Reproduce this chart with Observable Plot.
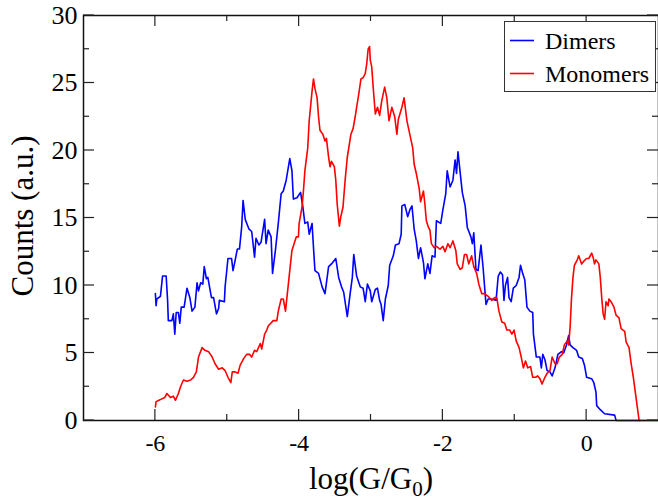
<!DOCTYPE html>
<html>
<head>
<meta charset="utf-8">
<script src="https://cdn.jsdelivr.net/npm/d3@7"></script>
<script src="https://cdn.jsdelivr.net/npm/@observablehq/plot@0.6"></script>
<style>
  html, body { margin: 0; padding: 0; background: #fff; }
</style>
</head>
<body>
<div id="chart"></div>
<script>
// ---- Data ----
const seriesNames = ["Dimers", "Monomers"];
const seriesColors = ["#0000ff", "#ff0000"];

const dimersX = [-6.00,-5.99,-5.98,-5.93,-5.90,-5.85,-5.83,-5.82,-5.77,-5.75,-5.73,-5.71,-5.68,-5.66,-5.64,-5.60,-5.56,-5.52,-5.49,-5.45,-5.42,-5.40,-5.37,-5.34,-5.32,-5.29,-5.27,-5.22,-5.19,-5.15,-5.12,-5.11,-5.04,-5.03,-4.99,-4.94,-4.92,-4.90,-4.86,-4.83,-4.80,-4.78,-4.75,-4.70,-4.66,-4.62,-4.60,-4.56,-4.53,-4.48,-4.46,-4.43,-4.39,-4.37,-4.33,-4.29,-4.25,-4.22,-4.18,-4.13,-4.10,-4.08,-4.03,-3.98,-3.95,-3.92,-3.88,-3.86,-3.82,-3.80,-3.78,-3.73,-3.68,-3.64,-3.59,-3.55,-3.49,-3.45,-3.41,-3.38,-3.33,-3.29,-3.26,-3.24,-3.20,-3.15,-3.11,-3.08,-3.05,-3.01,-2.99,-2.94,-2.91,-2.88,-2.86,-2.83,-2.80,-2.76,-2.74,-2.69,-2.66,-2.61,-2.58,-2.57,-2.53,-2.49,-2.46,-2.43,-2.40,-2.37,-2.34,-2.31,-2.27,-2.25,-2.21,-2.18,-2.15,-2.11,-2.09,-2.03,-2.00,-1.96,-1.94,-1.90,-1.86,-1.83,-1.81,-1.79,-1.76,-1.73,-1.69,-1.66,-1.61,-1.59,-1.57,-1.54,-1.51,-1.47,-1.44,-1.40,-1.37,-1.33,-1.26,-1.23,-1.20,-1.17,-1.15,-1.13,-1.10,-1.08,-1.05,-1.02,-0.98,-0.94,-0.92,-0.89,-0.86,-0.83,-0.79,-0.75,-0.74,-0.70,-0.65,-0.63,-0.61,-0.58,-0.55,-0.51,-0.48,-0.44,-0.40,-0.35,-0.32,-0.28,-0.25,-0.23,-0.19,-0.14,-0.11,-0.06,-0.03,0.00,0.07,0.10,0.13,0.14,0.19,0.25,0.39,0.41,0.74];
const dimersY = [9.4,8.5,9.0,9.2,10.7,10.7,8.9,7.4,7.4,7.9,6.4,8.0,8.0,7.2,8.4,8.4,9.8,9.1,8.1,8.4,10.2,9.6,10.2,10.1,11.4,10.5,10.6,9.1,9.1,7.9,8.3,8.9,8.8,9.9,12.0,12.0,11.1,11.6,12.7,12.7,14.3,16.3,14.9,14.2,14.0,12.1,13.5,13.0,13.2,14.9,13.1,14.1,13.6,10.9,12.6,14.6,16.8,17.0,17.8,19.4,18.5,16.4,16.5,16.9,15.9,14.6,14.7,13.8,14.6,12.8,11.1,10.9,9.9,9.4,11.4,11.6,12.0,10.6,9.9,9.5,7.7,9.4,10.6,12.3,10.7,9.9,9.8,8.8,10.1,9.6,8.8,9.7,9.8,8.9,8.6,7.4,9.0,10.0,11.5,12.2,13.0,13.1,13.8,15.9,16.0,15.1,15.6,15.9,14.2,13.3,12.0,12.8,11.7,10.5,11.6,10.9,12.2,12.1,14.8,14.6,15.6,16.8,18.5,17.3,17.8,19.3,18.3,19.9,18.4,16.9,15.9,14.3,13.6,13.1,13.9,11.2,11.1,13.0,11.3,8.6,9.0,9.0,8.9,10.7,11.0,10.8,8.9,10.0,10.6,9.1,8.8,9.8,10.0,10.6,11.5,10.9,10.4,8.4,8.1,8.0,6.4,4.7,4.7,3.9,4.9,4.5,3.7,3.6,3.3,3.9,4.9,5.1,5.0,5.6,6.3,5.6,5.4,5.2,4.7,4.6,4.1,3.2,3.1,2.8,2.1,1.1,0.8,0.5,0.4,0.0,0.0];

const monomersX = [-6.00,-5.99,-5.95,-5.91,-5.87,-5.84,-5.79,-5.75,-5.72,-5.68,-5.65,-5.61,-5.56,-5.51,-5.47,-5.43,-5.40,-5.35,-5.31,-5.26,-5.21,-5.17,-5.12,-5.07,-5.03,-4.99,-4.95,-4.93,-4.89,-4.85,-4.82,-4.77,-4.73,-4.69,-4.66,-4.62,-4.59,-4.54,-4.52,-4.48,-4.45,-4.43,-4.36,-4.31,-4.29,-4.25,-4.22,-4.19,-4.16,-4.13,-4.10,-4.07,-4.04,-4.01,-4.00,-3.96,-3.94,-3.92,-3.88,-3.86,-3.82,-3.80,-3.78,-3.75,-3.73,-3.71,-3.67,-3.64,-3.62,-3.59,-3.57,-3.55,-3.51,-3.49,-3.47,-3.44,-3.42,-3.39,-3.36,-3.33,-3.30,-3.28,-3.25,-3.22,-3.20,-3.17,-3.14,-3.11,-3.08,-3.06,-3.04,-3.02,-3.01,-2.99,-2.97,-2.94,-2.91,-2.88,-2.85,-2.81,-2.78,-2.75,-2.71,-2.67,-2.64,-2.62,-2.57,-2.54,-2.50,-2.46,-2.42,-2.40,-2.37,-2.33,-2.31,-2.27,-2.25,-2.23,-2.20,-2.18,-2.16,-2.12,-2.09,-2.04,-2.00,-1.97,-1.93,-1.90,-1.86,-1.82,-1.80,-1.76,-1.73,-1.70,-1.67,-1.64,-1.60,-1.57,-1.53,-1.50,-1.46,-1.42,-1.37,-1.32,-1.28,-1.25,-1.22,-1.18,-1.14,-1.11,-1.07,-1.04,-1.01,-0.98,-0.94,-0.91,-0.88,-0.85,-0.82,-0.78,-0.75,-0.71,-0.68,-0.65,-0.62,-0.58,-0.55,-0.51,-0.48,-0.44,-0.41,-0.38,-0.34,-0.31,-0.27,-0.25,-0.23,-0.21,-0.19,-0.17,-0.13,-0.11,-0.07,-0.04,0.00,0.03,0.07,0.09,0.11,0.13,0.17,0.19,0.21,0.23,0.25,0.27,0.30,0.31,0.34,0.38,0.41,0.45,0.48,0.53,0.55,0.59,0.62,0.65,0.68,0.70,0.73,1.00];
const monomersY = [1.0,1.4,1.5,1.6,1.7,2.0,1.7,1.8,1.5,2.0,2.5,3.0,2.9,3.0,3.2,3.6,4.7,5.4,5.2,5.1,4.7,4.2,3.8,3.9,3.7,3.2,2.8,3.6,3.6,3.5,4.1,4.6,4.9,4.9,4.7,5.2,5.1,5.7,5.3,6.4,6.7,7.0,7.4,7.4,8.1,9.0,9.0,8.1,9.6,11.1,12.6,13.1,13.6,13.6,14.6,15.8,17.0,18.5,20.2,22.2,24.4,25.3,24.6,23.9,22.5,21.5,21.2,20.7,20.9,19.5,18.8,19.2,18.8,17.8,16.0,14.4,15.1,15.8,17.8,19.5,20.5,21.2,21.6,22.5,23.2,24.2,25.3,25.4,25.7,26.4,27.5,27.7,26.7,26.2,24.7,22.7,23.2,22.6,23.7,24.7,23.9,22.2,23.2,22.5,21.2,22.3,23.2,23.9,22.2,21.2,20.2,19.0,18.3,17.2,16.2,17.0,16.0,14.8,14.3,14.1,13.1,12.8,12.9,12.7,12.9,12.5,13.1,12.8,13.3,12.6,11.6,11.2,11.3,12.3,12.3,11.6,12.2,11.4,10.9,10.1,9.4,9.4,9.2,8.9,9.1,9.1,8.1,7.3,7.2,6.7,6.7,6.4,6.7,5.9,5.4,4.7,3.9,4.4,3.9,4.0,3.2,3.2,3.3,3.1,2.7,3.2,3.5,3.7,4.7,4.2,4.2,4.7,4.9,5.6,5.9,5.6,6.9,9.1,10.6,11.5,11.9,12.2,11.6,11.8,12.0,12.0,12.4,12.1,11.6,11.9,11.6,10.6,9.1,7.9,7.5,8.8,8.5,9.0,8.8,8.4,7.8,7.6,6.8,6.6,5.8,5.4,4.2,3.2,2.0,1.2,0.0,0.0];

const xMajorTicks = [-6, -4, -2, 0];
const xMinorTicks = [-5, -3, -1];
const yMajorTicks = [0, 5, 10, 15, 20, 25, 30];
const yMinorTicks = [2.5, 7.5, 12.5, 17.5, 22.5, 27.5];
const xLabel = "log(G/G0)";
const yLabel = "Counts (a.u.)";

// ---- Build tables ----
const dimers = dimersX.map((x, i) => ({x, y: dimersY[i]}));
const monomers = monomersX.map((x, i) => ({x, y: monomersY[i]}));

const W = 658, H = 502;
const mL = 83, mR = 0, mT = 15, mB = 82;
const font = "'Liberation Serif', 'Times New Roman', Times, serif";

const chart = Plot.plot({
  width: W,
  height: H,
  marginLeft: mL,
  marginRight: mR,
  marginTop: mT,
  marginBottom: mB,
  style: {fontFamily: font, background: "white", color: "black"},
  x: {domain: [-7, 1]},
  y: {domain: [0, 30]},
  marks: [
    Plot.axisX({ticks: xMajorTicks, tickSize: 0, tickPadding: 13, fontSize: 24, tickFormat: d => String(d), label: null}),
    Plot.axisY({ticks: yMajorTicks, tickSize: 0, tickPadding: 6, fontSize: 26, tickFormat: d => String(d), label: null}),
    Plot.line(dimers, {x: "x", y: "y", stroke: seriesColors[0], strokeWidth: 1.6}),
    Plot.line(monomers, {x: "x", y: "y", stroke: seriesColors[1], strokeWidth: 1.6}),
    Plot.frame({stroke: "#111", strokeWidth: 1.5}),
    Plot.text([xLabel], {text: d => d, frameAnchor: "bottom", dy: 68, fontSize: 31}),
    Plot.text([yLabel], {text: d => d, frameAnchor: "left", textAnchor: "middle", rotate: -90, dx: -60, dy: -2, fontSize: 31})
  ]
});

const svg = d3.select(chart);
const sx = chart.scale("x"), sy = chart.scale("y");
const frameLeft = mL, frameRight = W - mR, frameTop = mT, frameBottom = H - mB;

// inward ticks on all four sides, positioned through the plot's scales
const tg = svg.append("g").attr("stroke", "#222").attr("stroke-width", 1.2);
[[xMajorTicks, 11], [xMinorTicks, 6]].forEach(([ticks, len]) => {
  ticks.forEach(v => {
    const px = sx.apply(v);
    tg.append("line").attr("x1", px).attr("x2", px).attr("y1", frameBottom).attr("y2", frameBottom - len);
    tg.append("line").attr("x1", px).attr("x2", px).attr("y1", frameTop).attr("y2", frameTop + len);
  });
});
[[yMajorTicks, 11], [yMinorTicks, 6]].forEach(([ticks, len]) => {
  ticks.forEach(v => {
    const py = sy.apply(v);
    tg.append("line").attr("y1", py).attr("y2", py).attr("x1", frameLeft).attr("x2", frameLeft + len);
    tg.append("line").attr("y1", py).attr("y2", py).attr("x1", frameRight).attr("x2", frameRight - len);
  });
});

// subscript 0 in the x label
svg.selectAll("text").each(function() {
  if (this.textContent === xLabel && this.childElementCount === 0) {
    const t = d3.select(this);
    t.text(null);
    t.append("tspan").text("log(G/G");
    t.append("tspan").attr("dy", 7).attr("font-size", 21).text("0");
    t.append("tspan").attr("dy", -7).text(")");
  }
});

// legend box (top right, inside the frame)
const lg = svg.append("g").attr("font-family", font).attr("text-anchor", "start");
lg.append("rect").attr("x", 504.5).attr("y", 21.5).attr("width", 151).attr("height", 70)
  .attr("fill", "white").attr("stroke", "#333").attr("stroke-width", 1);
seriesNames.forEach((name, i) => {
  const yy = 40.5 + i * 33;
  lg.append("line").attr("x1", 510).attr("x2", 534).attr("y1", yy).attr("y2", yy)
    .attr("stroke", seriesColors[i]).attr("stroke-width", 1.6);
  lg.append("text").attr("x", 545).attr("y", yy + 8).attr("font-size", 24)
    .attr("fill", "black").attr("text-anchor", "start").text(name);
});

document.getElementById("chart").appendChild(chart);
</script>
</body>
</html>
